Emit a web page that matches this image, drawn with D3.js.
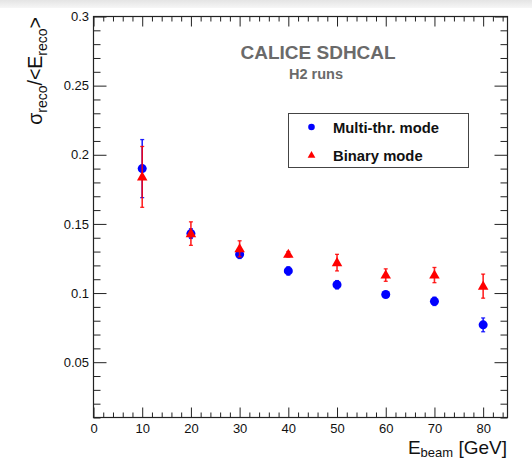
<!DOCTYPE html>
<html><head><meta charset="utf-8">
<script src="https://cdn.jsdelivr.net/npm/d3@7"></script>
<style>
body{margin:0;background:#fff;}
svg{display:block;font-family:"Liberation Sans",Arial,sans-serif;}
</style></head>
<body><svg id="c" width="532" height="460"></svg>
<script>
// ---- data ----
const energies = [10, 20, 30, 40, 50, 60, 70, 80];
const multiValues = [0.190, 0.143, 0.128, 0.116, 0.106, 0.099, 0.094, 0.077];
const multiErrors = [0.021, 0.0035, 0.003, 0.003, 0.003, 0.002, 0.003, 0.005];
const binaryValues = [0.184, 0.143, 0.132, 0.128, 0.122, 0.113, 0.113, 0.105];
const binaryErrors = [0.022, 0.0085, 0.0058, 0.002, 0.006, 0.0045, 0.0055, 0.0087];
const xMajorTicks = [0, 10, 20, 30, 40, 50, 60, 70, 80];
const yMajorTicks = [0.05, 0.1, 0.15, 0.2, 0.25, 0.3];
const yTickLabels = ["0.05", "0.1", "0.15", "0.2", "0.25", "0.3"];
const seriesNames = ["Multi-thr. mode", "Binary mode"];

const svg = d3.select("#c");
const L = 93.5, R = 507.5, T = 16.5, B = 417.5;
const x = d3.scaleLinear().domain([0, 85]).range([L, R]);
const y = d3.scaleLinear().domain([0.01, 0.3]).range([B, T]);

// top gray band
const defs = svg.append("defs");
const g0 = defs.append("linearGradient").attr("id","band").attr("x1",0).attr("x2",0).attr("y1",0).attr("y2",1);
g0.append("stop").attr("offset","0%").attr("stop-color","#e4e4e4");
g0.append("stop").attr("offset","100%").attr("stop-color","#f6f6f6");
svg.append("rect").attr("x",0).attr("y",0).attr("width",532).attr("height",8).attr("fill","url(#band)");

const axisColor = "#222";
const xMinor = d3.range(0, 86, 2).filter(v => v % 10 !== 0);
const yMinor = d3.range(1, 31).map(v => v / 100).filter(v => Math.round(v * 100) % 5 !== 0);

function styleAxis(g) {
  g.selectAll("path.domain").remove();
  g.selectAll("line").attr("stroke", axisColor).attr("stroke-width", 1);
  g.selectAll("text").attr("fill", "#111").attr("font-size", 13);
}
// bottom
svg.append("g").attr("transform", `translate(0,${B})`)
  .call(d3.axisBottom(x).tickValues(xMajorTicks).tickSize(-10).tickPadding(6).tickFormat(d3.format("d"))).call(styleAxis);
svg.append("g").attr("transform", `translate(0,${B})`)
  .call(d3.axisBottom(x).tickValues(xMinor).tickSize(-5).tickFormat("")).call(styleAxis);
// top
svg.append("g").attr("transform", `translate(0,${T})`)
  .call(d3.axisTop(x).tickValues(xMajorTicks).tickSize(-10).tickFormat("")).call(styleAxis);
svg.append("g").attr("transform", `translate(0,${T})`)
  .call(d3.axisTop(x).tickValues(xMinor).tickSize(-5).tickFormat("")).call(styleAxis);
// left
svg.append("g").attr("transform", `translate(${L},0)`)
  .call(d3.axisLeft(y).tickValues(yMajorTicks).tickSize(-13).tickPadding(4.5).tickFormat((d,i) => yTickLabels[i])).call(styleAxis);
svg.append("g").attr("transform", `translate(${L},0)`)
  .call(d3.axisLeft(y).tickValues(yMinor).tickSize(-7).tickFormat("")).call(styleAxis);
// right
svg.append("g").attr("transform", `translate(${R},0)`)
  .call(d3.axisRight(y).tickValues(yMajorTicks).tickSize(-13).tickFormat("")).call(styleAxis);
svg.append("g").attr("transform", `translate(${R},0)`)
  .call(d3.axisRight(y).tickValues(yMinor).tickSize(-7).tickFormat("")).call(styleAxis);

// frame
svg.append("rect").attr("x", L).attr("y", T).attr("width", R - L).attr("height", B - T)
  .attr("fill", "none").attr("stroke", axisColor).attr("stroke-width", 1.2);

// titles
svg.append("text").attr("x", 240.5).attr("y", 58.5).attr("font-size", 19).attr("font-weight", "bold")
  .attr("fill", "#6a6a6a").text("CALICE SDHCAL");
svg.append("text").attr("x", 289).attr("y", 79).attr("font-size", 14.5).attr("font-weight", "bold")
  .attr("fill", "#6a6a6a").text("H2 runs");

// series
function drawSeries(vals, errs, color, kind) {
  const g = svg.append("g");
  const data = energies.map((e, i) => ({e, v: vals[i], er: errs[i]}));
  g.selectAll("line.err").data(data).join("line")
    .attr("x1", d => x(d.e)).attr("x2", d => x(d.e))
    .attr("y1", d => y(d.v - d.er)).attr("y2", d => y(d.v + d.er))
    .attr("stroke", color).attr("stroke-width", 1.6).attr("opacity", 0.85);
  ["lo","hi"].forEach(k => {
    g.selectAll("line.cap" + k).data(data).join("line")
      .attr("x1", d => x(d.e) - 2).attr("x2", d => x(d.e) + 2)
      .attr("y1", d => y(k === "lo" ? d.v - d.er : d.v + d.er))
      .attr("y2", d => y(k === "lo" ? d.v - d.er : d.v + d.er))
      .attr("stroke", color).attr("stroke-width", 1.3).attr("opacity", 0.85);
  });
  const sym = kind === "circle" ? d3.symbol(d3.symbolCircle, 64) : d3.symbol(d3.symbolTriangle, 48);
  g.selectAll("path.m").data(data).join("path")
    .attr("transform", d => `translate(${x(d.e)},${y(d.v) + (kind === "circle" ? 0 : 0.5)})`)
    .attr("d", sym).attr("fill", color);
}
drawSeries(multiValues, multiErrors, "#0000ff", "circle");
drawSeries(binaryValues, binaryErrors, "#ff0000", "triangle");

// legend
const lg = svg.append("g");
lg.append("rect").attr("x", 288.5).attr("y", 113.5).attr("width", 180).attr("height", 54)
  .attr("fill", "#fff").attr("stroke", "#444").attr("stroke-width", 1);
lg.append("path").attr("transform", "translate(311.5,127)").attr("d", d3.symbol(d3.symbolCircle, 34)).attr("fill", "#0000ff");
lg.append("path").attr("transform", "translate(311.5,155.5)").attr("d", d3.symbol(d3.symbolTriangle, 26)).attr("fill", "#ff0000");
lg.append("text").attr("x", 333).attr("y", 132.5).attr("font-size", 14.8).attr("font-weight", "bold").attr("fill", "#111").text(seriesNames[0]);
lg.append("text").attr("x", 333).attr("y", 160.5).attr("font-size", 14.8).attr("font-weight", "bold").attr("fill", "#111").text(seriesNames[1]);

// x axis title
const xt = svg.append("text").attr("x", 507).attr("y", 453.5).attr("text-anchor", "end")
  .attr("font-size", 19).attr("fill", "#111");
xt.append("tspan").text("E");
xt.append("tspan").attr("font-size", 13).attr("dy", 3.5).text("beam");
xt.append("tspan").attr("dy", -3.5).text(" [GeV]");

// y axis title
const yt = svg.append("text").attr("transform", "translate(42,17) rotate(-90)").attr("text-anchor", "end")
  .attr("font-size", 19.5).attr("fill", "#111");
yt.append("tspan").text("σ");
yt.append("tspan").attr("font-size", 14).attr("dy", 5).text("reco");
yt.append("tspan").attr("dy", -5).text("/<E");
yt.append("tspan").attr("font-size", 14).attr("dy", 5).text("reco");
yt.append("tspan").attr("dy", -5).text(">");
</script></body></html>
